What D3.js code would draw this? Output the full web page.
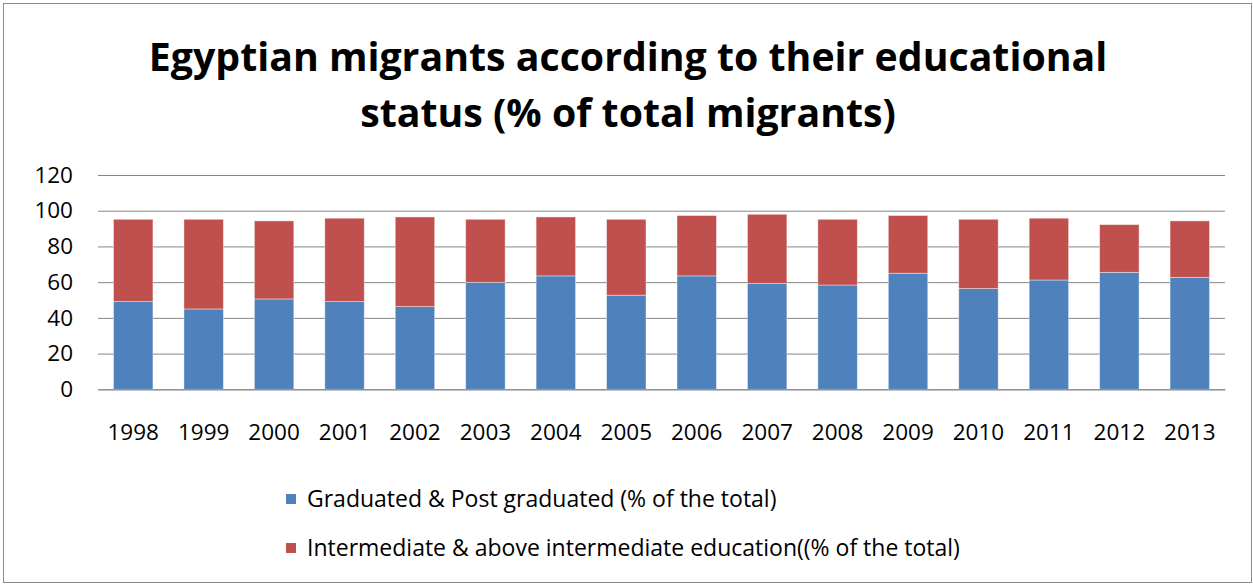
<!DOCTYPE html>
<html>
<head>
<meta charset="utf-8">
<script src="https://cdn.jsdelivr.net/npm/d3@7"></script>
<style>
  html, body { margin: 0; padding: 0; background: #fff; }
  svg { display: block; }
  text { font-family: "Open Sans", "Liberation Sans", sans-serif; fill: #000; }
</style>
</head>
<body>
<svg id="chart" width="1253" height="584"></svg>
<script>
const years = ["1998","1999","2000","2001","2002","2003","2004","2005","2006","2007","2008","2009","2010","2011","2012","2013"];
const graduated = [49.1, 45.0, 50.6, 49.1, 46.3, 59.9, 63.5, 52.7, 63.5, 59.2, 58.4, 65.0, 56.4, 61.2, 65.5, 62.7];
const intermediate = [46.1, 50.2, 43.7, 46.7, 50.2, 35.3, 33.0, 42.5, 33.8, 38.8, 36.8, 32.3, 38.8, 34.6, 26.7, 31.6];
const yTicks = [0, 20, 40, 60, 80, 100, 120];
const seriesNames = ["Graduated & Post graduated (% of the total)", "Intermediate & above intermediate education((% of the total)"];
const titleLines = ["Egyptian migrants according to their educational", "status (% of total migrants)"];
const colors = ["#4F81BD", "#C0504D"];

const svg = d3.select("#chart");

// chart border
svg.append("rect").attr("x", 3.5).attr("y", 3.5).attr("width", 1248).attr("height", 579)
  .attr("fill", "#fff").attr("stroke", "#8c8c8c").attr("stroke-width", 1);

const margin = {left: 98, right: 1225, top: 175, bottom: 389.3};
const x = d3.scaleBand().domain(years).range([margin.left, margin.right]).paddingInner(0.44).paddingOuter(0.22);
const y = d3.scaleLinear().domain([0, 120]).range([margin.bottom, margin.top]);

// gridlines via axis
const grid = svg.append("g").attr("transform", `translate(${margin.left},0)`)
  .call(d3.axisLeft(y).tickValues(yTicks).tickSize(-(margin.right - margin.left)).tickFormat(""));
grid.select(".domain").remove();
grid.selectAll("line").attr("stroke", "#868686").attr("stroke-width", 1);

// y labels
const yAxis = svg.append("g").attr("transform", `translate(${margin.left},0)`)
  .call(d3.axisLeft(y).tickValues(yTicks).tickSize(0).tickPadding(25));
yAxis.select(".domain").remove();
yAxis.selectAll("text").attr("font-size", 22.5).attr("font-family", "Open Sans").attr("fill", "#000");

// stacked data
const data = years.map((yr, i) => ({year: yr, graduated: graduated[i], intermediate: intermediate[i]}));
const stack = d3.stack().keys(["graduated", "intermediate"]);
const layers = stack(data);

svg.append("g").selectAll("g").data(layers).join("g")
  .attr("fill", (d, i) => colors[i])
  .selectAll("rect").data(d => d).join("rect")
  .attr("x", d => x(d.data.year))
  .attr("width", x.bandwidth())
  .attr("y", d => y(d[1]))
  .attr("height", d => y(d[0]) - y(d[1]))
  .attr("stroke", "#ffffff").attr("stroke-opacity", 0.5).attr("stroke-width", 0.8);

// baseline axis
const xAxis = svg.append("g").attr("transform", `translate(0,${margin.bottom})`)
  .call(d3.axisBottom(x).tickSize(0).tickPadding(35));
xAxis.select(".domain").attr("stroke", "#868686");
xAxis.selectAll("text").attr("font-size", 22.5).attr("font-family", "Open Sans").attr("fill", "#000");

// title
const title = svg.append("g");
titleLines.forEach((t, i) => {
  title.append("text").attr("x", 628).attr("y", 71 + i * 56)
    .attr("text-anchor", "middle").attr("font-weight", "bold").attr("font-size", 40)
    .text(t);
});
// fit title width to reference (~959px for first line)
const w0 = title.select("text").node().getComputedTextLength();
const fs = 40 * 959 / w0;
title.selectAll("text").attr("font-size", fs);

// legend
const legend = svg.append("g");
seriesNames.forEach((name, i) => {
  const cy = 499 + i * 49;
  legend.append("rect").attr("x", 286).attr("y", cy - 5).attr("width", 10).attr("height", 10).attr("fill", colors[i]);
  legend.append("text").attr("x", 307).attr("y", cy).attr("dy", "0.35em")
    .attr("font-size", 23).text(name);
});
</script>
</body>
</html>
